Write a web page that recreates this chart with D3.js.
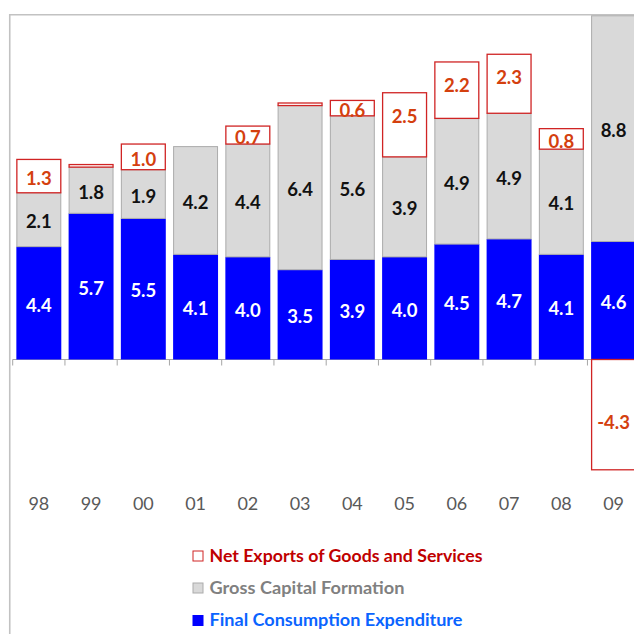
<!DOCTYPE html>
<html>
<head>
<meta charset="utf-8">
<script src="https://cdn.jsdelivr.net/npm/d3@7/dist/d3.min.js"></script>
<style>
  html, body { margin: 0; padding: 0; background: #fff; }
  svg { display: block; }
</style>
</head>
<body>
<svg id="chart" width="634" height="634"></svg>
<script>
// ---- data ----
const years = ["98","99","00","01","02","03","04","05","06","07","08","09"];
const finalConsumption = [4.4, 5.7, 5.5, 4.1, 4.0, 3.5, 3.9, 4.0, 4.5, 4.7, 4.1, 4.6];
const grossCapital     = [2.1, 1.8, 1.9, 4.2, 4.4, 6.4, 5.6, 3.9, 4.9, 4.9, 4.1, 8.8];
const netExports       = [1.3, 0.1, 1.0, 0.0, 0.7, 0.1, 0.6, 2.5, 2.2, 2.3, 0.8, -4.3];
const seriesKeys   = ["fce", "gcf", "nx"];
const legendLabels = ["Net Exports of Goods and Services", "Gross Capital Formation", "Final Consumption Expenditure"];
const legendKeys   = ["nx", "gcf", "fce"];

// ---- styles ----
const fillColor   = { fce: "#0000FF", gcf: "#D9D9D9", nx: "#FFFFFF" };
const strokeColor = { fce: "none", gcf: "#ABABAB", nx: "#D02424" };
const labelColor  = { fce: "#FFFFFF", gcf: "#111111", nx: "#D4400E" };
const legendTextColor = { nx: "#C00000", gcf: "#808080", fce: "#0A64FF" };
const legendTextLen   = { nx: 273, gcf: 195, fce: 253 };

const table = years.map((y, i) => ({ year: y, fce: finalConsumption[i], gcf: grossCapital[i], nx: netExports[i] }));

const svg = d3.select("#chart");

const zeroY = 359.5, pxPerUnit = 25.65;
const x = d3.scaleBand().domain(years).range([12.7, 639.7]).paddingInner(0.14).paddingOuter(0.07);
const y = d3.scaleLinear().domain([-4.5, 13.5]).range([zeroY + 4.5 * pxPerUnit, zeroY - 13.5 * pxPerUnit]);

// frame
svg.append("line").attr("x1", 9.5).attr("x2", 640).attr("y1", 14.75).attr("y2", 14.75)
  .attr("stroke", "#C2C2C2").attr("stroke-width", 1.6);
svg.append("line").attr("x1", 9.75).attr("x2", 9.75).attr("y1", 14).attr("y2", 634)
  .attr("stroke", "#C2C2C2").attr("stroke-width", 1.6);

// axis line and ticks between categories
const step = x.step();
const r0 = x.range()[0];
svg.append("line").attr("x1", r0).attr("x2", 640).attr("y1", y(0)).attr("y2", y(0))
  .attr("stroke", "#A6A6A6").attr("stroke-width", 1);
svg.append("g").selectAll("line").data(d3.range(years.length + 1)).join("line")
  .attr("x1", i => r0 + i * step).attr("x2", i => r0 + i * step)
  .attr("y1", y(0)).attr("y2", y(0) + 6)
  .attr("stroke", "#A6A6A6").attr("stroke-width", 1);

// stacks
const stack = d3.stack().keys(seriesKeys).offset(d3.stackOffsetDiverging);
const layers = stack(table);

const gBars = svg.append("g");
layers.forEach(layer => {
  const key = layer.key;
  const g = gBars.append("g");
  g.selectAll("rect").data(layer.filter(d => d[1] !== d[0])).join("rect")
    .attr("x", d => x(d.data.year) + (key === "fce" ? 0 : 0.5))
    .attr("width", x.bandwidth() - (key === "fce" ? 0 : 1))
    .attr("y", d => y(Math.max(d[0], d[1])))
    .attr("height", d => Math.abs(y(d[0]) - y(d[1])))
    .attr("fill", fillColor[key])
    .attr("stroke", strokeColor[key])
    .attr("stroke-width", key === "nx" ? 1.3 : 1);
});

// label placement (mimics the spreadsheet's placement of centred labels)
function labelY(d, key) {
  const top = y(Math.max(d[0], d[1]));
  const bottom = y(Math.min(d[0], d[1]));
  const h = bottom - top;
  const mid = (top + bottom) / 2;
  if (key === "nx") {
    if (d.data.nx < 0) return mid + 7;
    return top + Math.min(h / 2 + 2, 23);
  }
  return mid + 1.5;
}

// labels
const gLabels = svg.append("g")
  .attr("font-family", "Lato, 'Open Sans', sans-serif")
  .attr("font-weight", "bold")
  .attr("font-size", 18.5);
layers.forEach(layer => {
  const key = layer.key;
  gLabels.append("g").selectAll("text")
    .data(layer.filter(d => Math.abs(d.data[key]) >= 0.3)).join("text")
    .attr("x", d => x(d.data.year) + x.bandwidth() / 2)
    .attr("y", d => labelY(d, key))
    .attr("text-anchor", "middle")
    .attr("dominant-baseline", "central")
    .attr("fill", labelColor[key])
    .text(d => d.data[key].toFixed(1));
});

// x axis labels
const xAxis = d3.axisBottom(x).tickSize(0).tickPadding(137.5);
const gx = svg.append("g").attr("transform", `translate(0,${y(0)})`).call(xAxis);
gx.select(".domain").remove();
gx.selectAll("text")
  .attr("font-family", "Lato, 'Open Sans', sans-serif")
  .attr("font-size", 18)
  .attr("fill", "#595959");

// legend
const legend = svg.append("g");
const legendY = [561.5, 593.5, 626];
legendKeys.forEach((key, i) => {
  const g = legend.append("g");
  g.append("rect")
    .attr("x", 193).attr("y", legendY[i] - 10.5)
    .attr("width", 10).attr("height", 10)
    .attr("fill", fillColor[key])
    .attr("stroke", key === "nx" ? "#D02424" : (key === "gcf" ? "#ABABAB" : "#0000FF"))
    .attr("stroke-width", 1);
  g.append("text")
    .attr("x", 209.5).attr("y", legendY[i])
    .attr("font-family", "Lato, 'Open Sans', sans-serif")
    .attr("font-weight", "bold")
    .attr("font-size", 16.5)
    .attr("fill", legendTextColor[key])
    .attr("textLength", legendTextLen[key])
    .attr("lengthAdjust", "spacingAndGlyphs")
    .text(legendLabels[i]);
});
</script>
</body>
</html>
